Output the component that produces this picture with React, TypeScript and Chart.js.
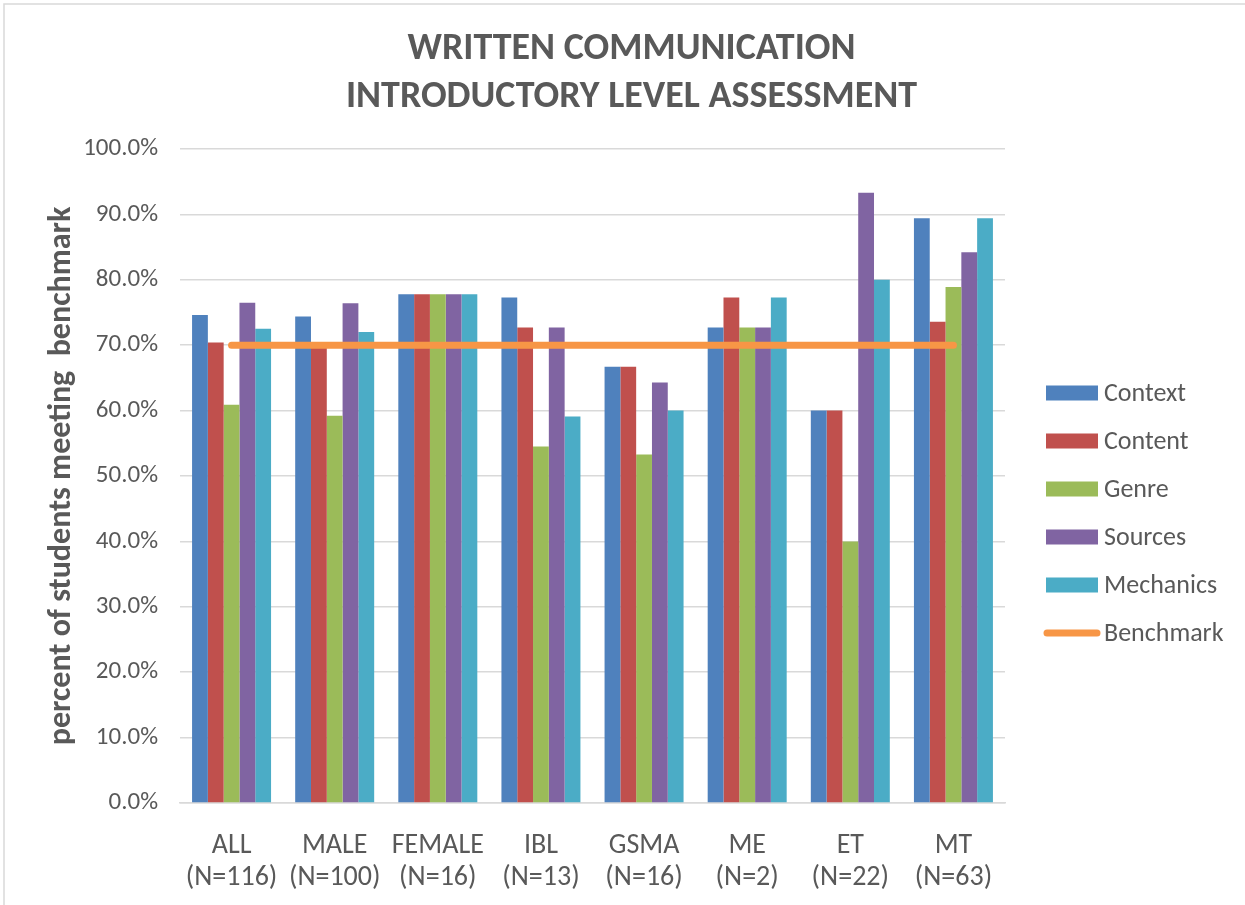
import React, { useEffect, useRef } from 'react';
import { Chart, registerables } from 'chart.js';

Chart.register(...registerables);

const FONT = "Carlito, Lato, 'Open Sans', sans-serif";
const TEXT = '#595959';

const categories: string[][] = [
  ['ALL', '(N=116)'],
  ['MALE', '(N=100)'],
  ['FEMALE', '(N=16)'],
  ['IBL', '(N=13)'],
  ['GSMA', '(N=16)'],
  ['ME', '(N=2)'],
  ['ET', '(N=22)'],
  ['MT', '(N=63)'],
];

const contextVals = [74.6, 74.4, 77.8, 77.3, 66.7, 72.7, 60.0, 89.4];
const contentVals = [70.4, 70.0, 77.8, 72.7, 66.7, 77.3, 60.0, 73.6];
const genreVals = [60.9, 59.2, 77.8, 54.5, 53.3, 72.7, 40.0, 78.9];
const sourcesVals = [76.5, 76.4, 77.8, 72.7, 64.3, 72.7, 93.3, 84.2];
const mechanicsVals = [72.5, 72.0, 77.8, 59.1, 60.0, 77.3, 80.0, 89.4];
const benchmarkVals = [70, 70, 70, 70, 70, 70, 70, 70];

const yMin = 0;
const yMax = 100;
const yStep = 10;

const titleLines = ['WRITTEN COMMUNICATION', 'INTRODUCTORY LEVEL ASSESSMENT'];
const yAxisTitle = 'percent of students meeting  benchmark';

const barSeries = [
  { label: 'Context', data: contextVals, color: '#4F81BD' },
  { label: 'Content', data: contentVals, color: '#C0504D' },
  { label: 'Genre', data: genreVals, color: '#9BBB59' },
  { label: 'Sources', data: sourcesVals, color: '#8064A2' },
  { label: 'Mechanics', data: mechanicsVals, color: '#4BACC6' },
];
const benchmarkColor = '#F79646';

// Outer frame around the whole chart
const framePlugin = {
  id: 'frame',
  beforeDraw(chart: any) {
    const ctx = chart.ctx;
    ctx.save();
    ctx.strokeStyle = '#d9d9d9';
    ctx.lineWidth = 1.5;
    ctx.strokeRect(4, 4, chart.width + 20, chart.height + 20);
    ctx.restore();
  },
};

// Legend drawn to the right of the plot: filled boxes for bars, a rounded stroke for the line
const sideLegendPlugin = {
  id: 'sideLegend',
  afterDraw(chart: any) {
    const ctx = chart.ctx;
    const area = chart.chartArea;
    const x0 = area.right + 41;
    const rowGap = 48;
    const items = chart.data.datasets;
    const firstY = 393;
    ctx.save();
    ctx.font = `26px ${FONT}`;
    ctx.textBaseline = 'middle';
    ctx.textAlign = 'left';
    items.forEach((ds: any, i: number) => {
      const y = firstY + i * rowGap;
      if (ds.type === 'line') {
        ctx.strokeStyle = ds.borderColor;
        ctx.lineWidth = 7;
        ctx.lineCap = 'round';
        ctx.beginPath();
        ctx.moveTo(x0 + 1, y);
        ctx.lineTo(x0 + 51, y);
        ctx.stroke();
      } else {
        ctx.fillStyle = ds.backgroundColor;
        ctx.fillRect(x0, y - 7.5, 52, 15);
      }
      ctx.fillStyle = TEXT;
      ctx.fillText(ds.label, x0 + 58, y + 1);
    });
    ctx.restore();
  },
};

export default function App() {
  const canvasRef = useRef<HTMLCanvasElement | null>(null);

  useEffect(() => {
    if (!canvasRef.current) return;
    const lineDataset: any = {
      type: 'line',
      label: 'Benchmark',
      data: benchmarkVals,
      borderColor: benchmarkColor,
      backgroundColor: benchmarkColor,
      borderWidth: 7,
      borderCapStyle: 'round',
      pointRadius: 0,
      pointHoverRadius: 0,
      fill: false,
      order: 0,
    };
    const barDatasets: any[] = barSeries.map((s) => ({
      type: 'bar',
      label: s.label,
      data: s.data,
      backgroundColor: s.color,
      borderWidth: 0,
      categoryPercentage: 0.766,
      barPercentage: 1.0,
      order: 1,
    }));

    const chart = new Chart(canvasRef.current, {
      type: 'bar',
      data: { labels: categories, datasets: [...barDatasets, lineDataset] },
      options: {
        animation: false,
        responsive: false,
        maintainAspectRatio: false,
        layout: { padding: { left: 18, right: 0, top: 0, bottom: 0 } },
        plugins: {
          legend: { display: false },
          tooltip: { enabled: false },
          title: {
            display: true,
            text: titleLines,
            color: TEXT,
            font: { family: FONT, size: 38, weight: 'bold', lineHeight: 1.25 },
            padding: { top: 26, bottom: 28 },
          },
        },
        scales: {
          x: {
            grid: { display: false, drawTicks: false },
            border: { display: true, color: '#d9d9d9', width: 1.5 },
            ticks: {
              color: TEXT,
              font: { family: FONT, size: 28, lineHeight: 1.15 },
              padding: 27,
              maxRotation: 0,
              autoSkip: false,
            },
            afterFit(scale: any) {
              scale.height = 102;
            },
          },
          y: {
            min: yMin,
            max: yMax,
            grid: { color: '#d9d9d9', lineWidth: 1.5, drawTicks: false },
            border: { display: false },
            ticks: {
              stepSize: yStep,
              color: TEXT,
              font: { family: FONT, size: 25 },
              padding: 22,
              callback: (v: any) => Number(v).toFixed(1) + '%',
            },
            title: {
              display: true,
              text: yAxisTitle,
              color: TEXT,
              font: { family: FONT, size: 32, weight: 'bold' },
              padding: { top: 25, bottom: 0 },
            },
            afterFit(scale: any) {
              scale.width = 162;
            },
          },
          // empty band on the right that holds the legend
          legendBand: {
            type: 'linear',
            position: 'right',
            display: true,
            grid: { display: false, drawTicks: false },
            border: { display: false },
            ticks: { display: false },
            afterFit(scale: any) {
              scale.width = 240;
            },
          },
        },
      },
      plugins: [framePlugin, sideLegendPlugin],
    } as any);
    return () => chart.destroy();
  }, []);

  return (
    <div style={{ position: 'fixed', left: 0, top: 0, width: 1245, height: 905, background: '#fff' }}>
      <canvas ref={canvasRef} width={1245} height={905} style={{ display: 'block' }} />
    </div>
  );
}
